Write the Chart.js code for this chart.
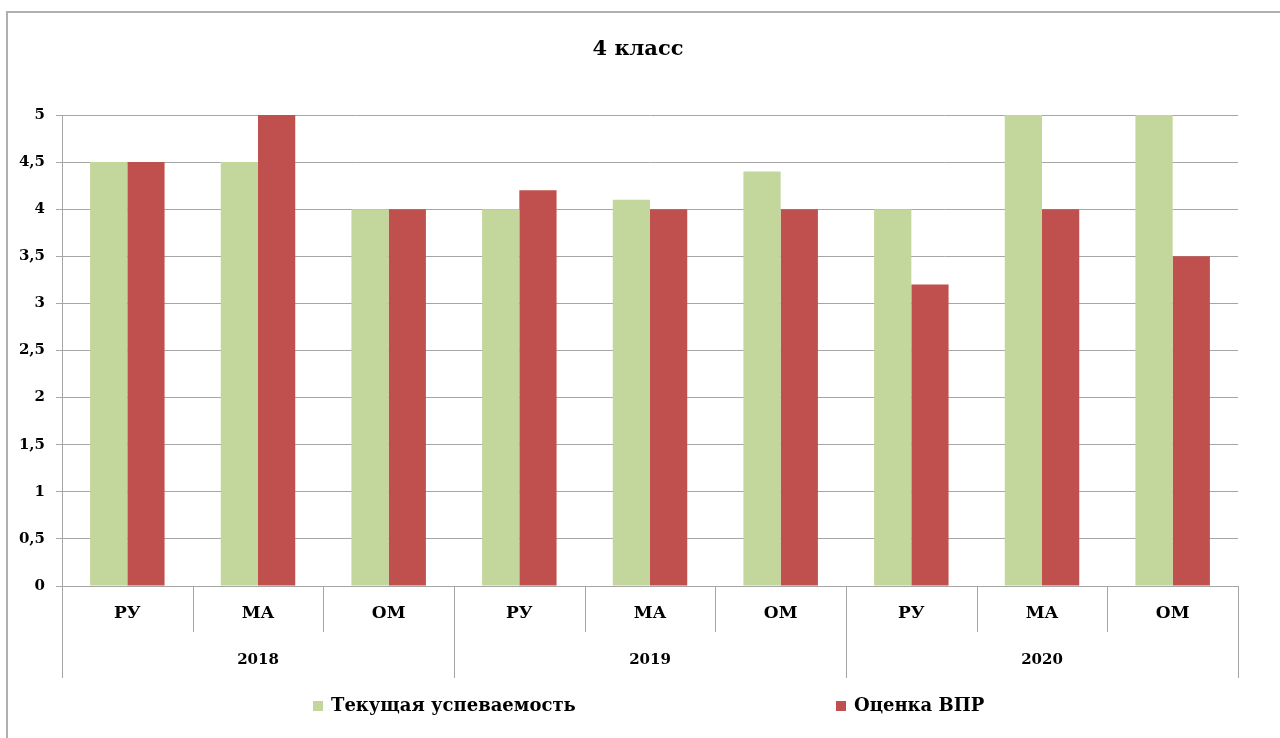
<!DOCTYPE html>
<html lang="ru">
<head>
<meta charset="utf-8">
<title>4 класс</title>
<script src="https://cdn.jsdelivr.net/npm/chart.js@4.4.1/dist/chart.umd.min.js"></script>
<style>
  html, body { margin: 0; padding: 0; background: #fff; }
  canvas { display: block; }
</style>
</head>
<body>
<canvas id="chart" width="1280" height="738"></canvas>
<script>
// chart data
const chartTitle = "4 класс";
const years = ["2018", "2019", "2020"];
const subjects = ["РУ", "МА", "ОМ"];
const currentGrades = [4.5, 4.5, 4, 4, 4.1, 4.4, 4, 5, 5];
const vprGrades = [4.5, 5, 4, 4.2, 4, 4, 3.2, 4, 3.5];
const seriesNames = ["Текущая успеваемость", "Оценка ВПР"];
const yTicks = [0, 0.5, 1, 1.5, 2, 2.5, 3, 3.5, 4, 4.5, 5];

const FONT = "'DejaVu Serif', 'Liberation Serif', serif";
const LINE_GRAY = "#a6a6a6";

// every year has the same subjects
const labels = [];
years.forEach(() => subjects.forEach((s) => labels.push(s)));

// frame, title, year row, separators and legend like the Excel original
const excelAxisPlugin = {
  id: "excelAxis",
  beforeDraw(chart) {
    const ctx = chart.ctx;
    ctx.save();
    ctx.strokeStyle = "#b0b0b0";
    ctx.lineWidth = 2;
    ctx.beginPath();
    ctx.moveTo(7, 738);
    ctx.lineTo(7, 12);
    ctx.lineTo(1280, 12);
    ctx.stroke();

    ctx.fillStyle = "#000";
    ctx.font = "bold 21px " + FONT;
    ctx.textAlign = "center";
    ctx.textBaseline = "middle";
    ctx.fillText(chartTitle, 638, 50);
    ctx.restore();
  },
  afterDraw(chart) {
    const ctx = chart.ctx;
    const x = chart.scales.x;
    const y = chart.scales.y;
    const catW = (x.right - x.left) / labels.length;
    const base = y.bottom;

    ctx.save();
    ctx.strokeStyle = LINE_GRAY;
    ctx.lineWidth = 1;
    for (let i = 0; i <= labels.length; i++) {
      const px = Math.round(x.left + i * catW) + 0.5;
      const isYear = i % subjects.length === 0;
      ctx.beginPath();
      ctx.moveTo(px, base);
      ctx.lineTo(px, isYear ? base + 92 : base + 46);
      ctx.stroke();
    }

    // year labels
    ctx.fillStyle = "#000";
    ctx.font = "bold 15px " + FONT;
    ctx.textAlign = "center";
    ctx.textBaseline = "middle";
    years.forEach((yr, j) => {
      const mid = j * subjects.length + (subjects.length - 1) / 2;
      ctx.fillText(yr, x.getPixelForValue(mid), base + 74);
    });

    // legend
    const legendX = [313, 836];
    const legendY = 706;
    ctx.font = "bold 18px " + FONT;
    ctx.textAlign = "left";
    chart.data.datasets.forEach((ds, k) => {
      ctx.fillStyle = ds.backgroundColor;
      ctx.fillRect(legendX[k], legendY - 5, 10, 10);
      ctx.fillStyle = "#000";
      ctx.fillText(ds.label, legendX[k] + 18, legendY);
    });
    ctx.restore();
  }
};

new Chart(document.getElementById("chart"), {
  type: "bar",
  data: {
    labels: labels,
    datasets: [
      {
        label: seriesNames[0],
        data: currentGrades,
        backgroundColor: "#c3d69b",
        borderWidth: 0
      },
      {
        label: seriesNames[1],
        data: vprGrades,
        backgroundColor: "#c0504d",
        borderWidth: 0
      }
    ]
  },
  options: {
    responsive: false,
    animation: false,
    devicePixelRatio: 1,
    categoryPercentage: 0.57,
    barPercentage: 1,
    layout: { padding: { left: 0, right: 42, top: 115, bottom: 0 } },
    plugins: {
      legend: { display: false },
      tooltip: { enabled: false },
      title: { display: false }
    },
    scales: {
      x: {
        grid: { display: false, drawTicks: false },
        border: { display: true, color: LINE_GRAY, width: 1 },
        ticks: {
          color: "#000",
          padding: 17,
          maxRotation: 0,
          font: { family: FONT, size: 17, weight: "bold" }
        },
        afterFit(scale) { scale.height = 152; }
      },
      y: {
        min: 0,
        max: 5,
        afterBuildTicks(scale) {
          scale.ticks = yTicks.map((v) => ({ value: v }));
        },
        grid: { color: LINE_GRAY, lineWidth: 1, tickLength: 6 },
        border: { display: true, color: LINE_GRAY, width: 1 },
        ticks: {
          color: "#000",
          padding: 11,
          font: { family: FONT, size: 15, weight: "bold" },
          callback: (v) => String(v).replace(".", ",")
        },
        afterFit(scale) { scale.width = 62; }
      }
    }
  },
  plugins: [excelAxisPlugin]
});
</script>
</body>
</html>
